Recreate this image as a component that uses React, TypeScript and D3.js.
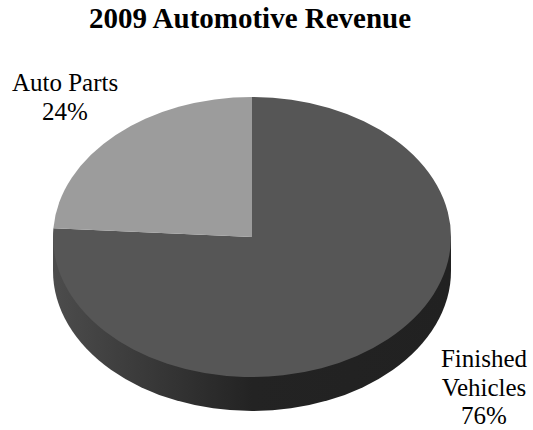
import React, { useEffect, useRef } from 'react';
import * as d3 from 'd3';

const categories = ['Finished Vehicles', 'Auto Parts'];
const shares = [76, 24];
const sliceColors = ['#565656', '#9c9c9c'];
const title = '2009 Automotive Revenue';

export default function App() {
  const ref = useRef<SVGSVGElement>(null);

  useEffect(() => {
    if (!ref.current) return;
    const svg = d3.select(ref.current);
    svg.selectAll('*').remove();

    const width = 533;
    const height = 430;
    const cx = 252;
    const cy = 237;
    const rx = 199;
    const ry = 140;
    const depth = 34;

    // Side wall shading, spans the bounding box of each side piece
    const defs = svg.append('defs');
    const grad = defs.append('linearGradient')
      .attr('id', 'side')
      .attr('x1', 0).attr('x2', 1)
      .attr('y1', 0).attr('y2', 0);
    const stops: [number, string][] = [
      [0, '#4c4c4c'],
      [0.25, '#383838'],
      [0.5, '#232323'],
      [1, '#212121'],
    ];
    stops.forEach(([o, c]) => grad.append('stop').attr('offset', o).attr('stop-color', c));

    const pie = d3.pie<number>().sort(null).startAngle(0).endAngle(2 * Math.PI);
    const arcs = pie(shares);
    const arc = d3.arc<d3.PieArcDatum<number>>().innerRadius(0).outerRadius(rx);

    const halfDisc = d3.arc()
      .innerRadius(0).outerRadius(rx)
      .startAngle(Math.PI / 2).endAngle(Math.PI * 1.5);

    // Side wall
    const side = svg.append('g');
    side.append('rect')
      .attr('x', cx - rx).attr('y', cy)
      .attr('width', 2 * rx).attr('height', depth)
      .attr('fill', 'url(#side)');
    side.append('path')
      .attr('transform', `translate(${cx},${cy + depth}) scale(1,${ry / rx})`)
      .attr('d', halfDisc({} as any))
      .attr('fill', 'url(#side)');

    // Top face
    svg.append('g')
      .attr('transform', `translate(${cx},${cy}) scale(1,${ry / rx})`)
      .selectAll('path')
      .data(arcs)
      .join('path')
      .attr('d', arc)
      .attr('fill', (_, i) => sliceColors[i]);

    const font = '"Liberation Serif", "Times New Roman", serif';

    svg.append('text')
      .attr('x', 250).attr('y', 28)
      .attr('text-anchor', 'middle')
      .attr('font-family', font)
      .attr('font-size', 29)
      .attr('font-weight', 'bold')
      .text(title);

    const labels = [
      { lines: ['Auto Parts', `${shares[1]}%`], x: 65, y: 91 },
      { lines: ['Finished', 'Vehicles', `${shares[0]}%`], x: 484, y: 367 },
    ];
    labels.forEach((l) => {
      const t = svg.append('text')
        .attr('text-anchor', 'middle')
        .attr('font-family', font)
        .attr('font-size', 25)
        .attr('fill', '#000');
      l.lines.forEach((s, i) => {
        t.append('tspan').attr('x', l.x).attr('y', l.y + i * 28.7).text(s);
      });
    });

    svg.attr('width', width).attr('height', height);
  }, []);

  return (
    <svg ref={ref} style={{ position: 'fixed', left: 0, top: 0, background: '#fff' }} aria-label={categories.join(', ')} />
  );
}
